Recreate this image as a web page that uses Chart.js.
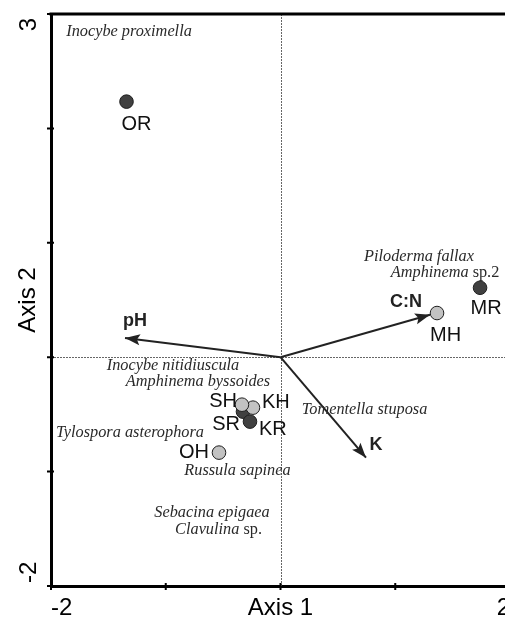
<!DOCTYPE html>
<html>
<head>
<meta charset="utf-8">
<script src="https://cdn.jsdelivr.net/npm/chart.js@4/dist/chart.umd.min.js"></script>
<style>
html,body{margin:0;padding:0;background:#fff;overflow:hidden;width:505px;height:620px;}
canvas{display:block;}
</style>
</head>
<body>
<canvas id="c" width="530" height="620" style="width:530px;height:620px"></canvas>
<script>
// ---- data (ordination scores) ----
const siteNames = ['OR', 'MR', 'MH', 'SH', 'KH', 'SR', 'KR', 'OH'];
const siteX = [-1.342, 1.739, 1.364, -0.336, -0.240, -0.327, -0.266, -0.536];
const siteY = [2.234, 0.607, 0.386, -0.415, -0.441, -0.476, -0.563, -0.834];
const siteGroup = ['R', 'R', 'H', 'H', 'H', 'R', 'R', 'H']; // R = dark, H = light

const envNames = ['pH', 'C:N', 'K'];
const envX = [-1.355, 1.303, 0.745];
const envY = [0.168, 0.371, -0.878];

const speciesNames = ['Inocybe proximella', 'Piloderma fallax', 'Amphinema|sp.2',
  'Inocybe nitidiuscula', 'Amphinema byssoides', 'Tylospora asterophora',
  'Russula sapinea', 'Tomentella stuposa', 'Sebacina epigaea', 'Clavulina|sp.'];
const speciesX = [-1.320, 1.207, 1.434, -0.937, -0.719, -1.312, -0.375, 0.732, -0.597, -0.540];
const speciesY = [2.843, 0.878, 0.738, -0.074, -0.214, -0.659, -0.991, -0.459, -1.358, -1.507];

const xTicks = [-2, -1, 0, 1, 2];
const yTicks = [-2, -1, 0, 1, 2, 3];
const xTickLabels = ['-2', '2'];
const yTickLabels = ['-2', '3'];

// ---- label placement (pixels, not data) ----
const siteLabelOffset = {
  OR: [10, 23, 'center'], MR: [6, 21, 'center'], MH: [8.5, 22, 'center'],
  SH: [-5, -3, 'right'], KH: [9, -5, 'left'], SR: [-3, 13, 'right'],
  KR: [9, 8, 'left'], OH: [-10, 0, 'right']
};
const envLabelOffset = [[10, -17], [-24, -13], [10, -13]];

// ---- build datasets ----
function pts(group) {
  const order = group === 'H' ? ['OH', 'MH', 'KH', 'SH'] : ['OR', 'MR', 'SR', 'KR'];
  return order.map(n => { const i = siteNames.indexOf(n); return {x: siteX[i], y: siteY[i]}; });
}
const datasets = [
  {type: 'scatter', label: 'H', data: pts('H'), backgroundColor: '#c2c2c2', borderColor: '#1e1e1e',
   borderWidth: 1, pointRadius: 6.8, pointHoverRadius: 6.8},
  {type: 'scatter', label: 'R', data: pts('R'), backgroundColor: '#404040', borderColor: '#1e1e1e',
   borderWidth: 1, pointRadius: 6.8, pointHoverRadius: 6.8}
];
envNames.forEach((n, i) => {
  datasets.push({type: 'line', label: n, data: [{x: 0, y: 0}, {x: envX[i], y: envY[i]}],
    borderColor: '#222', borderWidth: 2, pointRadius: 0, fill: false, tension: 0});
});

const furniture = {
  id: 'furniture',
  beforeDatasetsDraw(chart) {
    const {ctx, chartArea: a, scales: {x, y}} = chart;
    ctx.save();
    ctx.strokeStyle = '#666';
    ctx.lineWidth = 1;
    ctx.setLineDash([2, 1]);
    const x0 = Math.round(x.getPixelForValue(0)) + 0.5;
    const y0 = Math.round(y.getPixelForValue(0)) + 0.5;
    ctx.beginPath();
    ctx.moveTo(x0, a.top); ctx.lineTo(x0, a.bottom);
    ctx.moveTo(a.left, y0); ctx.lineTo(a.right, y0);
    ctx.stroke();
    ctx.restore();
  },
  afterDatasetsDraw(chart) {
    const {ctx, chartArea: a, scales: {x, y}} = chart;
    ctx.save();
    // top frame line
    ctx.strokeStyle = '#000';
    ctx.lineWidth = 3;
    ctx.beginPath();
    ctx.moveTo(a.left - 1.5, a.top); ctx.lineTo(chart.width, a.top);
    ctx.stroke();
    // tick marks crossing axes
    ctx.lineWidth = 2;
    ctx.beginPath();
    xTicks.forEach(v => { const px = x.getPixelForValue(v); ctx.moveTo(px, a.bottom - 3); ctx.lineTo(px, a.bottom + 4); });
    yTicks.forEach(v => { const py = y.getPixelForValue(v); ctx.moveTo(a.left - 4, py); ctx.lineTo(a.left + 3, py); });
    ctx.stroke();
    // y tick labels, rotated
    ctx.fillStyle = '#000';
    ctx.font = '24px "Liberation Sans", Arial, sans-serif';
    ctx.textBaseline = 'alphabetic';
    yTickLabels.forEach(t => {
      const v = Number(t);
      const py = y.getPixelForValue(v);
      ctx.save();
      ctx.translate(a.left - 15.5, v === y.max ? py + 4 : py - 3);
      ctx.rotate(-Math.PI / 2);
      ctx.textAlign = v === y.max ? 'right' : 'left';
      ctx.fillText(t, 0, 0);
      ctx.restore();
    });
    // arrow heads
    ctx.fillStyle = '#222';
    envNames.forEach((n, i) => {
      const tx = x.getPixelForValue(envX[i]), ty = y.getPixelForValue(envY[i]);
      const ox = x.getPixelForValue(0), oy = y.getPixelForValue(0);
      const ang = Math.atan2(ty - oy, tx - ox);
      const L = 15, W = 5.5;
      ctx.beginPath();
      ctx.moveTo(tx, ty);
      ctx.lineTo(tx - L * Math.cos(ang) + W * Math.sin(ang), ty - L * Math.sin(ang) - W * Math.cos(ang));
      ctx.lineTo(tx - L * 0.8 * Math.cos(ang), ty - L * 0.8 * Math.sin(ang));
      ctx.lineTo(tx - L * Math.cos(ang) - W * Math.sin(ang), ty - L * Math.sin(ang) + W * Math.cos(ang));
      ctx.closePath();
      ctx.fill();
      // env labels
      ctx.font = 'bold 18px "Liberation Sans", Arial, sans-serif';
      ctx.textAlign = 'center';
      ctx.textBaseline = 'middle';
      ctx.fillText(n, tx + envLabelOffset[i][0], ty + envLabelOffset[i][1]);
    });
    // site labels
    ctx.fillStyle = '#111';
    ctx.font = '20px "Liberation Sans", Arial, sans-serif';
    ctx.textBaseline = 'middle';
    siteNames.forEach((n, i) => {
      const o = siteLabelOffset[n];
      ctx.textAlign = o[2];
      ctx.fillText(n, x.getPixelForValue(siteX[i]) + o[0], y.getPixelForValue(siteY[i]) + o[1]);
    });
    // species labels
    ctx.fillStyle = '#2a2a2a';
    ctx.textAlign = 'left';
    const fIt = 'italic 16.3px "Liberation Serif", "Times New Roman", serif';
    const fRm = '16.3px "Liberation Serif", "Times New Roman", serif';
    speciesNames.forEach((s, i) => {
      const parts = s.split('|');
      ctx.font = fIt; const w1 = ctx.measureText(parts[0]).width;
      let w2 = 0;
      if (parts[1]) { ctx.font = fRm; w2 = ctx.measureText(' ' + parts[1]).width; }
      const cx = x.getPixelForValue(speciesX[i]), cy = y.getPixelForValue(speciesY[i]);
      let sx = cx - (w1 + w2) / 2;
      ctx.font = fIt; ctx.fillText(parts[0], sx, cy);
      if (parts[1]) { ctx.font = fRm; ctx.fillText(' ' + parts[1], sx + w1, cy); }
    });
    ctx.restore();
  }
};

new Chart(document.getElementById('c'), {
  data: {datasets},
  options: {
    responsive: false,
    devicePixelRatio: 1,
    animation: false,
    events: [],
    layout: {padding: {top: 14, right: 20, left: 0, bottom: 0}},
    plugins: {legend: {display: false}, tooltip: {enabled: false}},
    scales: {
      x: {
        type: 'linear', min: -2, max: 2,
        afterFit(s) { s.height = 34; },
        afterBuildTicks(s) { s.ticks = xTicks.map(v => ({value: v})); },
        grid: {display: false, drawTicks: false},
        border: {display: true, color: '#000', width: 3},
        ticks: {
          autoSkip: false, maxRotation: 0, align: 'inner', padding: 8, color: '#000',
          font: {family: '"Liberation Sans", Arial, sans-serif', size: 24},
          callback: v => xTickLabels.includes(String(v)) ? String(v) : ''
        },
        title: {display: true, text: 'Axis 1', color: '#000', padding: {top: 0, bottom: 0},
          font: {family: '"Liberation Sans", Arial, sans-serif', size: 24, lineHeight: 1}}
      },
      y: {
        type: 'linear', min: -2, max: 3,
        afterFit(s) { s.width = 51; },
        afterBuildTicks(s) { s.ticks = yTicks.map(v => ({value: v})); },
        grid: {display: false, drawTicks: false},
        border: {display: true, color: '#000', width: 3},
        ticks: {display: true, callback: () => ''},
        title: {display: true, text: 'Axis 2', color: '#000', padding: {top: 16, bottom: 0},
          font: {family: '"Liberation Sans", Arial, sans-serif', size: 24, lineHeight: 1}}
      }
    }
  },
  plugins: [furniture]
});
</script>
</body>
</html>
